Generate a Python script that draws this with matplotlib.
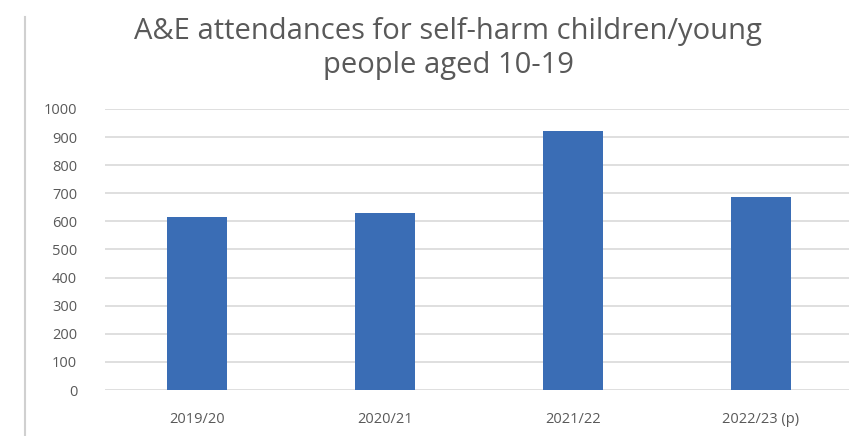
import matplotlib.pyplot as plt
from matplotlib.lines import Line2D

years = ['2019/20', '2020/21', '2021/22', '2022/23 (p)']
attendances = [617, 630, 920, 688]
yticks = list(range(0, 1001, 100))

plt.rcParams['font.family'] = ['Open Sans', 'DejaVu Sans']

fig = plt.figure(figsize=(8.49, 4.36), dpi=100)
ax = fig.add_axes([105 / 849, 1 - 390 / 436, 1 - 105 / 849, (390 - 109) / 436])

x = range(len(years))
ax.bar(x, attendances, width=0.32, color='#3a6db5', zorder=3)

ax.set_xlim(-0.49, 3.47)
ax.set_ylim(0, 1000)
ax.set_yticks(yticks)
ax.set_xticks(list(x))
ax.set_xticklabels(years)
ax.grid(axis='y', color='#d9d9d9', linewidth=1.2, zorder=0)
ax.tick_params(length=0, labelsize=10.5, colors='#595959')
ax.tick_params(axis='x', pad=16)
ax.tick_params(axis='y', pad=20)
for s in ax.spines.values():
    s.set_visible(False)

fig.text(0.528, 0.96, 'A&E attendances for self-harm children/young\npeople aged 10-19',
         ha='center', va='top', fontsize=21, color='#595959', linespacing=1.2)

# outer chart border on the left
fig.add_artist(Line2D([25 / 849, 25 / 849], [0, 1 - 17 / 436], color='#d0d0d0', linewidth=1.5))

fig.savefig('out.png', dpi=100)
